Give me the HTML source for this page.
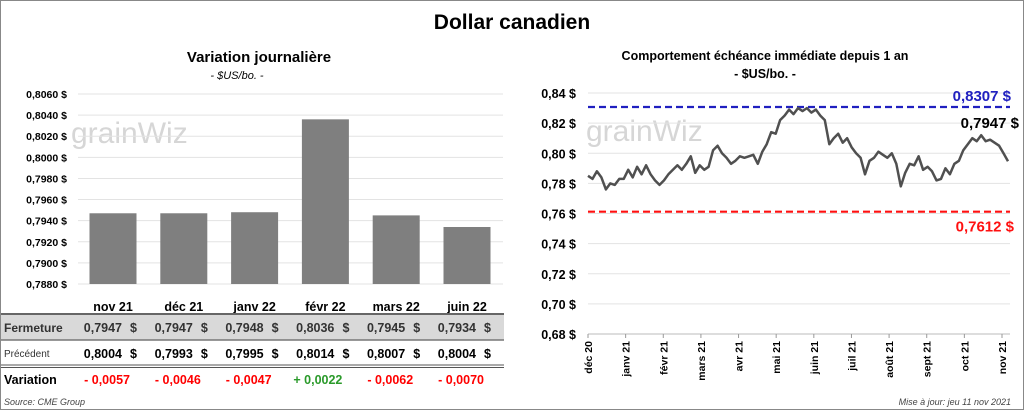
<!DOCTYPE html>
<html><head><meta charset="utf-8"><style>
body{margin:0;background:#fff;font-family:"Liberation Sans",sans-serif}
#wrap{position:relative;width:1022px;height:408px;border:1px solid #888;overflow:hidden}
.t{position:absolute;white-space:nowrap}
</style></head><body>
<div id="wrap">
<div class="t" style="left:0;width:1022px;text-align:center;top:10px;font-size:21px;font-weight:bold">Dollar canadien</div>
<svg id="left" width="512" height="410" style="position:absolute;left:0;top:0"></svg>
<svg id="right" width="512" height="410" style="position:absolute;left:510px;top:0"></svg>
</div>
<script>
const cats=["nov 21","déc 21","janv 22","févr 22","mars 22","juin 22"];
const closeVals=[0.7947,0.7947,0.7948,0.8036,0.7945,0.7934];
const prevVals=[0.8004,0.7993,0.7995,0.8014,0.8007,0.8004];
const yTicksL=[0.7880,0.7900,0.7920,0.7940,0.7960,0.7980,0.8000,0.8020,0.8040,0.8060];
const monthLabels=["déc 20","janv 21","févr 21","mars 21","avr 21","mai 21","juin 21","juil 21","août 21","sept 21","oct 21","nov 21"];
const yTicksR=[0.68,0.70,0.72,0.74,0.76,0.78,0.80,0.82,0.84];
const series=[0.785,0.783,0.788,0.784,0.776,0.780,0.779,
0.783,0.783,0.789,0.784,0.791,0.786,0.792,0.786,
0.782,0.779,0.782,0.786,0.789,0.792,0.789,0.793,0.798,0.787,
0.792,0.789,0.791,0.802,0.805,0.800,0.797,0.793,0.795,
0.798,0.797,0.798,0.799,0.793,0.801,0.806,0.814,0.813,
0.822,0.825,0.829,0.826,0.830,0.828,0.830,0.827,
0.829,0.825,0.822,0.806,0.810,0.813,0.807,0.810,
0.804,0.800,0.797,0.786,0.795,0.797,0.801,0.799,0.797,0.800,
0.793,0.778,0.787,0.793,0.792,0.798,0.789,0.791,
0.788,0.782,0.783,0.790,0.786,0.793,0.795,
0.802,0.806,0.810,0.808,0.812,0.808,0.809,0.807,0.805,
0.800,0.7947];
const highVal=0.8307, lowVal=0.7612, lastVal=0.7947;
const NS="http://www.w3.org/2000/svg";
function mk(svg,tag,attrs,txt){const e=document.createElementNS(NS,tag);for(const k in attrs)e.setAttribute(k,attrs[k]);if(txt!==undefined)e.textContent=txt;svg.appendChild(e);return e;}
const fmt=(v,d)=>v.toFixed(d).replace('.',',');

// LEFT
const L=document.getElementById('left');
let e;
e=mk(L,'text',{x:258,y:61,'text-anchor':'middle','font-size':15,'font-weight':'bold'},'Variation  journalière');

e=mk(L,'text',{x:236,y:78,'text-anchor':'middle','font-size':11,'font-style':'italic'},'- $US/bo. -');

const yL=v=>283-(v-0.7880)/(0.0180)*190;
const xL=i=>112+i*70.8;
e=mk(L,'text',{x:70,y:142,'font-size':30,fill:'#d6d6d6'},'grainWiz');

yTicksL.forEach(v=>{
 e=mk(L,'line',{x1:77,x2:502,y1:yL(v),y2:yL(v),stroke:'#e3e3e3','stroke-width':1});
 
 e=mk(L,'text',{x:66,y:yL(v)+4,'text-anchor':'end','font-size':10.5,'font-weight':'bold'},fmt(v,4)+' $');
 
});
cats.forEach((c,i)=>{
 const top=yL(closeVals[i]);
 e=mk(L,'rect',{x:xL(i)-23.5,y:top,width:47,height:283-top,fill:'#7f7f7f'});
 
 e=mk(L,'text',{x:xL(i),y:310,'text-anchor':'middle','font-size':12.5,'font-weight':'bold'},c);
 
});
e=mk(L,'rect',{x:0,y:313,width:503,height:26,fill:'#d9d9d9'});

[[313,2,'#666'],[339,1.5,'#777'],[364,1,'#555'],[366.5,1,'#555']].forEach(a=>{
 e=mk(L,'line',{x1:0,x2:503,y1:a[0],y2:a[0],stroke:a[2],'stroke-width':a[1]});
 
});
e=mk(L,'text',{x:3,y:331,'font-size':12,'font-weight':'bold',fill:'#333'},'Fermeture');
e=mk(L,'text',{x:3,y:356,'font-size':10,fill:'#333'},'Précédent');
e=mk(L,'text',{x:3,y:383,'font-size':12.5,'font-weight':'bold'},'Variation');
cats.forEach((c,i)=>{
 const cx=xL(i);
 e=mk(L,'text',{x:cx+9,y:331,'text-anchor':'end','font-size':12.5,'font-weight':'bold',fill:'#333'},fmt(closeVals[i],4));
 
 e=mk(L,'text',{x:cx+24,y:331,'text-anchor':'end','font-size':12.5,'font-weight':'bold',fill:'#333'},'$');
 
 e=mk(L,'text',{x:cx+9,y:357,'text-anchor':'end','font-size':12.5,'font-weight':'bold'},fmt(prevVals[i],4));
 
 e=mk(L,'text',{x:cx+24,y:357,'text-anchor':'end','font-size':12.5,'font-weight':'bold'},'$');
 
 const d=closeVals[i]-prevVals[i];
 e=mk(L,'text',{x:cx+17,y:383,'text-anchor':'end','font-size':12.5,'font-weight':'bold',fill:d>=0?'#2a9a2a':'#ff0000'},(d>=0?'+ ':'- ')+fmt(Math.abs(d),4));
 
});
e=mk(L,'text',{x:3,y:404,'font-size':9,'font-style':'italic',fill:'#444'},'Source: CME Group');


// RIGHT (offset 510)
const R=document.getElementById('right');
e=mk(R,'text',{x:254,y:59,'text-anchor':'middle','font-size':12.5,'font-weight':'bold'},'Comportement échéance immédiate depuis 1 an');

e=mk(R,'text',{x:254,y:77,'text-anchor':'middle','font-size':12.5,'font-weight':'bold'},'- $US/bo. -');

const X0=77,X1=499;
const yR=v=>333-(v-0.68)/0.16*241;
const xR=i=>X0+i*(X1-2-X0)/(series.length-1);
e=mk(R,'text',{x:75,y:140,'font-size':30,fill:'#d6d6d6'},'grainWiz');

yTicksR.forEach(v=>{
 e=mk(R,'line',{x1:X0,x2:X1,y1:yR(v),y2:yR(v),stroke:'#e3e3e3','stroke-width':1});
 
 e=mk(R,'text',{x:65,y:yR(v)+5,'text-anchor':'end','font-size':12.5,'font-weight':'bold'},fmt(v,2)+' $');
 
});
e=mk(R,'line',{x1:X0,x2:X1,y1:333,y2:333,stroke:'#bbb'});
const mStep=(X1-X0-8)/11;
monthLabels.forEach((m,i)=>{
 const x=X0+i*mStep;
 e=mk(R,'line',{x1:x,x2:x,y1:333,y2:337,stroke:'#999'});
 e=mk(R,'text',{x:0,y:0,transform:`translate(${x+4},340) rotate(-90)`,'text-anchor':'end','font-size':10.5,'font-weight':'bold'},m);
 
});
e=mk(R,'line',{x1:X0,x2:X1,y1:yR(highVal),y2:yR(highVal),stroke:'#2020c0','stroke-width':2.2,'stroke-dasharray':'7,4'});

e=mk(R,'line',{x1:X0,x2:X1,y1:yR(lowVal),y2:yR(lowVal),stroke:'#ff1010','stroke-width':2.2,'stroke-dasharray':'7,4'});

e=mk(R,'text',{x:500,y:yR(highVal)-6,'text-anchor':'end','font-size':15,'font-weight':'bold',fill:'#2020c0'},fmt(highVal,4)+' $');

e=mk(R,'text',{x:503,y:yR(lowVal)+20,'text-anchor':'end','font-size':15,'font-weight':'bold',fill:'#ff1010'},fmt(lowVal,4)+' $');

e=mk(R,'text',{x:508,y:127,'text-anchor':'end','font-size':15,'font-weight':'bold'},fmt(lastVal,4)+' $');

e=mk(R,'polyline',{points:series.map((v,i)=>xR(i).toFixed(1)+','+yR(v).toFixed(1)).join(' '),fill:'none',stroke:'#505050','stroke-width':2.5,'stroke-linejoin':'round'});

e=mk(R,'text',{x:500,y:404,'text-anchor':'end','font-size':9,'font-style':'italic',fill:'#444'},'Mise à jour: jeu 11 nov 2021');

</script>
</body></html>
